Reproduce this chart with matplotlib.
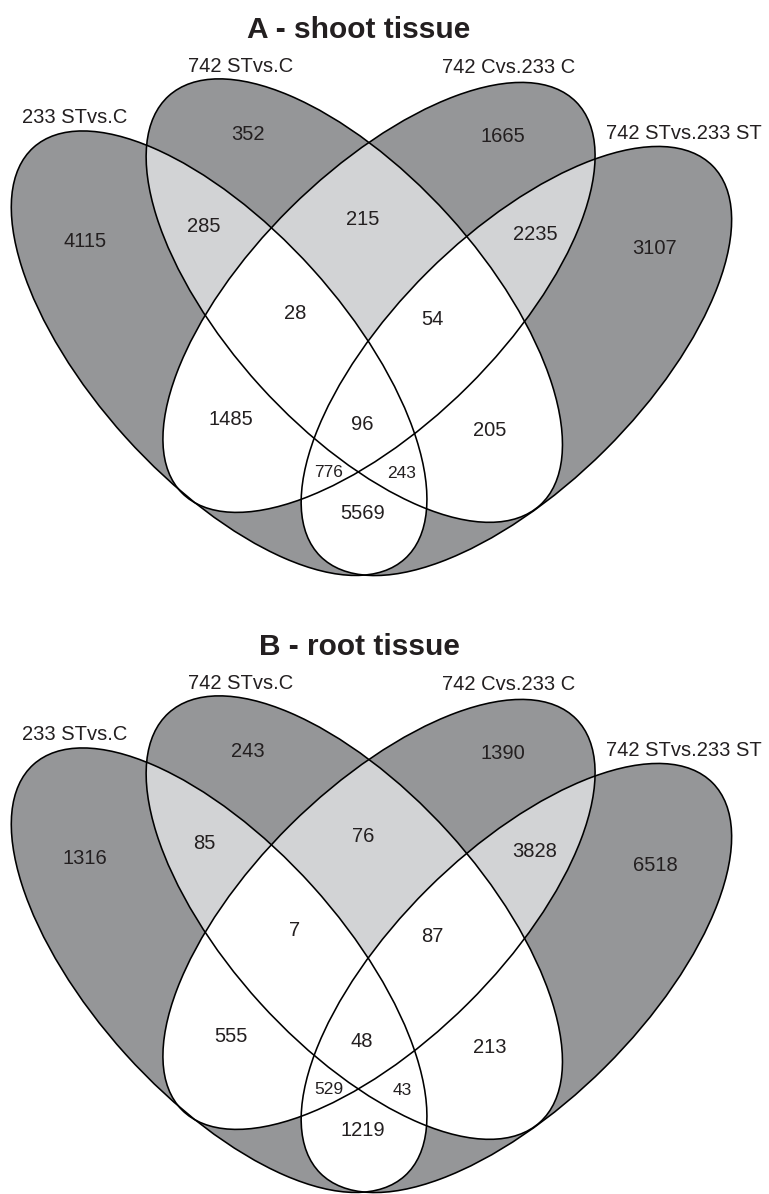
import matplotlib
matplotlib.use("Agg")
import matplotlib.pyplot as plt
from matplotlib.patches import Ellipse

plt.rcParams['font.family'] = ['Liberation Sans', 'DejaVu Sans']

# sets: A = 233 STvs.C, B = 742 STvs.C, C = 742 Cvs.233 C, D = 742 STvs.233 ST
set_names = ["233 STvs.C", "742 STvs.C", "742 Cvs.233 C", "742 STvs.233 ST"]
region_keys = ["A", "B", "C", "D", "AB", "BC", "CD", "AC", "BD", "AD",
               "ABC", "BCD", "ACD", "ABD", "ABCD"]
shoot_counts = [4115, 352, 1665, 3107, 285, 215, 2235, 1485, 205, 5569, 28, 54, 776, 243, 96]
root_counts = [1316, 243, 1390, 6518, 85, 76, 3828, 555, 213, 1219, 7, 87, 529, 43, 48]

# ellipse outlines of one panel in pixels: centre, semi-axes, angle (y down)
shapes = {
    "A": ((219.1, 353.2), 277.1, 125.7, 47.92),
    "B": ((354.3, 300.6), 276.3, 127.1, 47.78),
    "C": ((379.0, 297.4), 277.6, 125.9, 135.22),
    "D": ((516.4, 361.0), 276.7, 125.7, 135.14),
}
label_xy = [(85, 240), (248, 133), (503, 135), (655, 247), (204, 225), (363, 218),
            (535, 233), (231, 418), (490, 429), (363, 512), (295, 312), (432, 318),
            (329, 471), (402, 472), (362, 423)]
cat_xy = [(75, 116), (241, 65), (509, 66), (684, 132)]

DARK = "#959698"
LIGHT = "#d2d3d5"
TXT = "#231f20"
PX = 100 / 72

fig = plt.figure(figsize=(7.69, 11.94), dpi=100)
ax = fig.add_axes([0, 0, 1, 1])
ax.set_xlim(0, 769)
ax.set_ylim(1194, 0)
ax.axis("off")


def ell(key, dy, **kw):
    (cx, cy), a, b, ang = shapes[key]
    return Ellipse((cx, cy + dy), 2 * a, 2 * b, angle=ang, transform=ax.transData, **kw)


def centred_text(x, y, s, fs, **kw):
    # y is the middle of the cap height
    ax.text(x, y + 0.358 * fs * PX, s, fontsize=fs, color=TXT,
            ha="center", va="baseline", **kw)


def draw_panel(dy, counts, title):
    for k in "ABCD":
        ax.add_patch(ell(k, dy, facecolor=DARK, edgecolor="none"))
    # neighbouring pairs light grey, the rest of the overlaps white
    pairs = [("A", "B", LIGHT), ("B", "C", LIGHT), ("C", "D", LIGHT),
             ("A", "C", "white"), ("B", "D", "white"), ("A", "D", "white")]
    for p, q, col in pairs:
        patch = ax.add_patch(ell(p, dy, facecolor=col, edgecolor="none"))
        patch.set_clip_path(ell(q, dy))
    for k in "ABCD":
        ax.add_patch(ell(k, dy, facecolor="none", edgecolor="black", lw=1.15))

    for key, n, (x, y) in zip(region_keys, counts, label_xy):
        fs = 12.5 if key in ("ACD", "ABD") else 14.5
        centred_text(x, y + dy, str(n), fs)
    for name, (x, y) in zip(set_names, cat_xy):
        centred_text(x, y + dy, name, 14.5)
    centred_text(359, 27 + dy, title, 21.5, fontweight="bold")


draw_panel(0, shoot_counts, "A - shoot tissue")
draw_panel(617, root_counts, "B - root tissue")

fig.savefig("out.png", dpi=100)
